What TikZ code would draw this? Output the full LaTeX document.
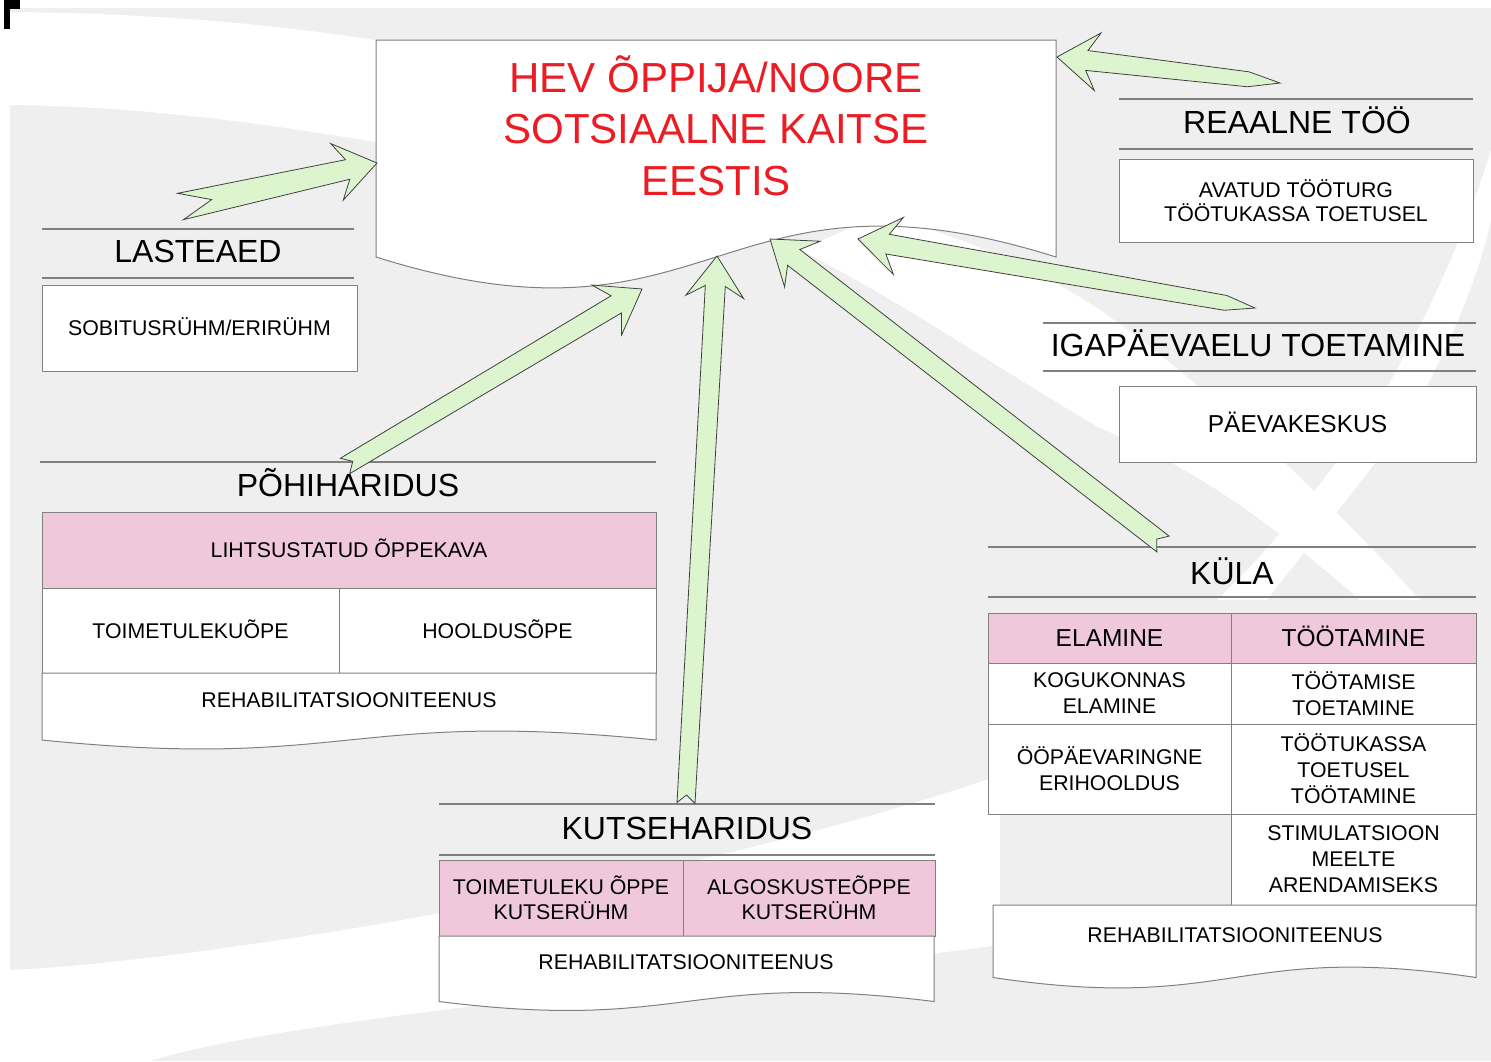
\documentclass[tikz,border=0pt]{standalone}
\usepackage{fontspec}
\setmainfont{Liberation Sans}
\usetikzlibrary{calc}
\definecolor{bggray}{HTML}{EFEFEF}
\definecolor{arrgreen}{HTML}{DCF5CF}
\definecolor{cellpink}{HTML}{EFC8DC}
\definecolor{linegray}{HTML}{808080}
\definecolor{titlered}{HTML}{EC1C24}
\newcommand\hevfs[2]{\fontsize{#1}{#2}\selectfont}
% block arrow: tail, tip, tail half width, corner advance, middle advance
\newcommand\hevarrow[5]{%
  \path ($(#1)!#4!(#2)$) coordinate (ha-c)
        ($(#2)!30pt!(#1)$) coordinate (ha-j)
        ($(#2)!41pt!(#1)$) coordinate (ha-b)
        ($(#1)!#5!(#2)$) coordinate (ha-m);
  \draw[arrowsty] ($(ha-c)!#3!90:(#2)$) -- ($(ha-j)!10pt!90:(#2)$) -- ($(ha-b)!29pt!90:(#2)$) -- (#2)
     -- ($(ha-b)!29pt!-90:(#2)$) -- ($(ha-j)!10pt!-90:(#2)$) -- ($(ha-c)!#3!-90:(#2)$) -- (ha-m) -- cycle;}
% cell node from corners: style, name, x1, y1, x2, y2, text
\newcommand\tcell[7]{\node[#1, minimum width={#5-#3}, minimum height={#6-#4}] (#2) at ({(#3+#5)/2},{(#4+#6)/2}) {#7};}
% document shape: x1, ytop, x2, yend, wave
\newcommand\docshape[5]{\draw[docsty] (#1,#2) -- (#3,#2) -- (#3,#4) .. controls ({(#1+#3)/2},{#4-#5}) and ({(#1+#3)/2},{#4+#5}) .. (#1,#4) -- cycle;}
\begin{document}
\begin{tikzpicture}[x=1pt,y=-1pt,
  secline/.style={draw=linegray, line width=1.4pt},
  heading/.style={font=\hevfs{32}{38}, inner sep=0pt, text height=22.9pt, text depth=0pt},
  cell/.style={draw=linegray, line width=1pt, fill=white, inner sep=0pt, align=center, font=\hevfs{21.3}{26}},
  cellone/.style={cell, text height=15.3pt, text depth=0pt},
  pinkcell/.style={cell, fill=cellpink},
  pinkbig/.style={pinkcell, font=\hevfs{24.5}{30}, text height=17.5pt, text depth=0pt},
  label/.style={inner sep=0pt, font=\hevfs{21.3}{26}, text height=15.3pt, text depth=0pt},
  docsty/.style={draw=linegray, line width=1pt, fill=white},
  arrowsty/.style={fill=arrgreen, draw=black!75, line width=0.8pt, line join=miter}]
\useasboundingbox (0,0) rectangle (1491,1061);
% background
\fill[white] (0,0) rectangle (1491,1061);
\fill[bggray] (10,8) rectangle (1491,1061);
\fill[white] (10,12) .. controls (150,13) and (300,25) .. (420,48) -- (420,150) .. controls (300,128) and (150,106) .. (10,105) -- cycle;
\fill[white] (880,215) .. controls (960,235) and (1040,270) .. (1100,310) .. controls (1200,380) and (1330,500) .. (1420,600)
   -- (1360,600) .. controls (1280,530) and (1200,470) .. (1100,428) .. controls (1000,370) and (900,300) .. (800,250) -- cycle;
\fill[white] (1491,150) .. controls (1460,250) and (1420,330) .. (1380,400) .. controls (1320,490) and (1260,560) .. (1217,600)
   -- (1267,600) .. controls (1320,530) and (1400,440) .. (1430,380) .. controls (1460,320) and (1480,270) .. (1491,220) -- cycle;
\fill[white] (10,970) .. controls (200,962) and (700,880) .. (1000,775) -- (1000,945) .. controls (700,985) and (300,1015) .. (150,1061) -- (10,1061) -- cycle;
% corner mark
\fill[black] (4,0) rectangle (20,9);
\fill[black] (4,0) rectangle (10,29);

% LASTEAED
\draw[secline] (42,229) -- (354,229);
\node[heading] (h-last) at (198,251.5) {LASTEAED};
\draw[secline] (42,278) -- (354,278);
\tcell{cellone}{sob}{42}{285}{357}{371}{SOBITUSRÜHM/ERIRÜHM}

% REAALNE TOO
\draw[secline] (1119,99) -- (1473,99);
\node[heading] (h-reaal) at (1297,122.5) {REAALNE TÖÖ};
\draw[secline] (1119,149) -- (1473,149);
\tcell{cell, font=\hevfs{21.3}{23.5}}{avatud}{1119}{159}{1473}{242}{AVATUD TÖÖTURG\\TÖÖTUKASSA TOETUSEL}

% IGAPAEVAELU
\draw[secline] (1043,323) -- (1476,323);
\node[heading] (h-iga) at (1258,345) {IGAPÄEVAELU TOETAMINE};
\draw[secline] (1043,371) -- (1476,371);
\tcell{cellone, font=\hevfs{24.5}{30}, text height=17.5pt}{paev}{1119}{386}{1476}{462}{PÄEVAKESKUS}

% POHIHARIDUS
\draw[secline] (40,462) -- (656,462);
\node[heading] (h-pohi) at (348,485.5) {PÕHIHARIDUS};
\tcell{pinkcell, text height=15.3pt, text depth=0pt}{liht}{42}{512}{656}{588}{LIHTSUSTATUD ÕPPEKAVA}
\tcell{cellone}{toim}{42}{588}{339}{673}{TOIMETULEKUÕPE}
\tcell{cellone}{hool}{339}{588}{656}{673}{HOOLDUSÕPE}
\docshape{42}{673}{656}{740}{31}
\node[label] (reh-pohi) at (349,700) {REHABILITATSIOONITEENUS};

% KUTSEHARIDUS
\draw[secline] (439,804) -- (935,804);
\node[heading] (h-kutse) at (687,828) {KUTSEHARIDUS};
\draw[secline] (439,855) -- (935,855);
\tcell{pinkcell, font=\hevfs{21.3}{25}}{kut-a}{439}{860}{683}{936}{TOIMETULEKU ÕPPE\\KUTSERÜHM}
\tcell{pinkcell, font=\hevfs{21.3}{25}}{kut-b}{683}{860}{935}{936}{ALGOSKUSTEÕPPE\\KUTSERÜHM}
\docshape{439}{936}{934}{1001.5}{31}
\node[label] (reh-kutse) at (686,962) {REHABILITATSIOONITEENUS};

% KULA
\draw[secline] (988,547) -- (1476,547);
\node[heading] (h-kula) at (1232,573) {KÜLA};
\draw[secline] (988,597) -- (1476,597);
\tcell{pinkbig}{elam}{988}{613}{1231}{663}{ELAMINE}
\tcell{pinkbig}{toot}{1231}{613}{1476}{663}{TÖÖTAMINE}
\tcell{cell}{kogu}{988}{663}{1231}{724}{KOGUKONNAS\\ELAMINE}
\tcell{cell}{toet}{1231}{663}{1476}{724}{TÖÖTAMISE\\TOETAMINE}
\tcell{cell}{oopa}{988}{724}{1231}{814}{ÖÖPÄEVARINGNE\\ERIHOOLDUS}
\tcell{cell}{kass}{1231}{724}{1476}{814}{TÖÖTUKASSA\\TOETUSEL\\TÖÖTAMINE}
\tcell{cell}{stim}{1231}{814}{1476}{905}{STIMULATSIOON\\MEELTE\\ARENDAMISEKS}
\docshape{993}{905}{1476}{977.5}{36}
\node[label] (reh-kula) at (1235,935) {REHABILITATSIOONITEENUS};

% main document shape
\docshape{376}{40}{1056}{257}{107}
\node[font=\hevfs{42}{51.5}, text=titlered, align=center, inner sep=0pt] (main) at (716,125.5) {HEV ÕPPIJA/NOORE\\SOTSIAALNE KAITSE\\EESTIS};

% arrow ends
\coordinate (t-last) at (180.5,206.5);  \coordinate (p-last) at (377,163);
\coordinate (t-pohi) at (345,466);      \coordinate (p-pohi) at (642,289);
\coordinate (t-kutse) at (686,803);     \coordinate (p-kutse) at (717,256);
\coordinate (t-kula) at (1163,544);     \coordinate (p-kula) at (770,239);
\coordinate (t-iga) at (1255,308);      \coordinate (p-iga) at (858,239);
\coordinate (t-reaal) at (1280,83);     \coordinate (p-reaal) at (1057,57);

\hevarrow{t-last}{p-last}{13.5pt}{0pt}{32pt}
\hevarrow{t-pohi}{p-pohi}{9pt}{0pt}{9pt}
\hevarrow{t-kutse}{p-kutse}{9pt}{0pt}{8pt}
\hevarrow{t-kula}{p-kula}{10pt}{0pt}{8pt}
\hevarrow{t-iga}{p-iga}{7.5pt}{30pt}{0pt}
\hevarrow{t-reaal}{p-reaal}{7.5pt}{32pt}{0pt}
\end{tikzpicture}
\end{document}
